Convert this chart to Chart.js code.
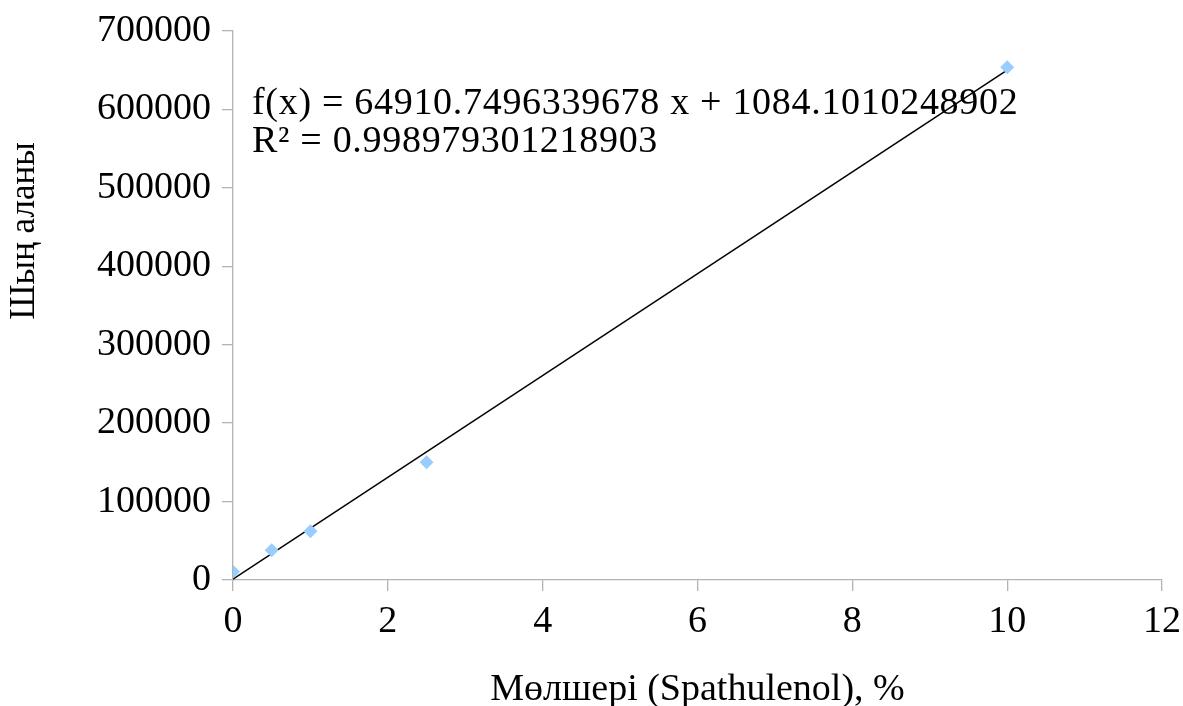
<!DOCTYPE html>
<html>
<head>
<meta charset="utf-8">
<script src="https://cdn.jsdelivr.net/npm/chart.js@4/dist/chart.umd.min.js"></script>
<style>
html,body{margin:0;padding:0;background:#fff;}
#wrap{width:1183px;height:706px;position:relative;}
</style>
</head>
<body>
<div id="wrap"><canvas id="c" width="1183" height="706"></canvas></div>
<script>
// ---- data ----
const xValues = [0, 0.5, 1, 2.5, 10];
const yValues = [10462, 38000, 62000, 150000, 653708];
const xTickLabels = ['0', '2', '4', '6', '8', '10', '12'];
const yTickLabels = ['0', '100000', '200000', '300000', '400000', '500000', '600000', '700000'];
const xTitle = 'Мөлшері (Spathulenol), %';
const yTitle = 'Шың аланы';
const equationLines = ['f(x) = 64910.7496339678 x + 1084.1010248902', 'R² = 0.998979301218903'];

// linear regression (trend line) from the data
const n = xValues.length;
const mx = xValues.reduce((a, b) => a + b, 0) / n;
const my = yValues.reduce((a, b) => a + b, 0) / n;
let sxy = 0, sxx = 0;
for (let i = 0; i < n; i++) { sxy += (xValues[i] - mx) * (yValues[i] - my); sxx += (xValues[i] - mx) ** 2; }
const slope = sxy / sxx, intercept = my - slope * mx;
const xMin = Math.min(...xValues), xMax = Math.max(...xValues);
const trend = [{x: xMin, y: slope * xMin + intercept}, {x: xMax, y: slope * xMax + intercept}];

const FONT = '"Liberation Serif", "DejaVu Serif", serif';
const AXIS = '#b3b3b3';

const textPlugin = {
  id: 'texts',
  afterDraw(chart) {
    const ctx = chart.ctx, a = chart.chartArea;
    ctx.save();
    ctx.fillStyle = '#000';
    ctx.font = '38px ' + FONT;
    ctx.textBaseline = 'middle';
    ctx.textAlign = 'left';
    ctx.letterSpacing = '0.7px';
    ctx.fillText(equationLines[0], a.left + 19, a.top + 73);
    ctx.fillText(equationLines[1], a.left + 19, a.top + 111);
    ctx.letterSpacing = '0px';
    ctx.textAlign = 'center';
    ctx.fillText(xTitle, (a.left + a.right) / 2, 690);
    ctx.font = '35px ' + FONT;
    ctx.translate(25, 231);
    ctx.rotate(-Math.PI / 2);
    ctx.fillText(yTitle, 0, 0);
    ctx.restore();
  }
};

new Chart(document.getElementById('c'), {
  type: 'scatter',
  data: {
    datasets: [
      {
        type: 'line',
        data: trend,
        borderColor: '#000',
        borderWidth: 1.5,
        pointRadius: 0,
        fill: false,
        order: 2
      },
      {
        data: xValues.map((x, i) => ({x: x, y: yValues[i]})),
        pointStyle: 'rectRot',
        pointRadius: 7,
        backgroundColor: '#99ccff',
        borderColor: '#99ccff',
        borderWidth: 0,
        order: 1
      }
    ]
  },
  options: {
    responsive: false,
    animation: false,
    layout: {padding: {top: 31, right: 21, left: 0, bottom: 0}},
    plugins: {legend: {display: false}, tooltip: {enabled: false}},
    scales: {
      x: {
        type: 'linear', min: 0, max: 12,
        ticks: {stepSize: 2, color: '#000', font: {family: FONT, size: 38}, padding: 8,
          callback: (v) => xTickLabels[Math.round(v / 2)]},
        grid: {drawOnChartArea: false, drawTicks: true, tickLength: 11, color: AXIS, lineWidth: 1.3},
        border: {display: true, color: AXIS, width: 1.3},
        afterFit(s) { s.height = 126; s.paddingLeft = 0; s.paddingRight = 0; }
      },
      y: {
        type: 'linear', min: 0, max: 700000,
        ticks: {stepSize: 100000, color: '#000', font: {family: FONT, size: 38}, padding: 11,
          callback: (v) => yTickLabels[Math.round(v / 100000)]},
        grid: {drawOnChartArea: false, drawTicks: true, tickLength: 11, color: AXIS, lineWidth: 1.3},
        border: {display: true, color: AXIS, width: 1.3},
        afterFit(s) { s.width = 233; s.paddingTop = 0; s.paddingBottom = 0; }
      }
    }
  },
  plugins: [textPlugin]
});
</script>
</body>
</html>
